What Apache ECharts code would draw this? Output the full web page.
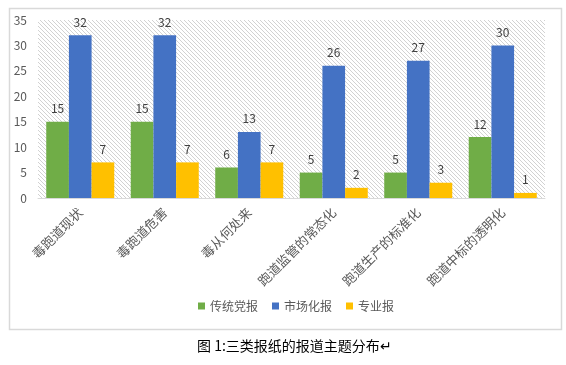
<!DOCTYPE html>
<html><head><meta charset="utf-8">
<script src="https://cdn.jsdelivr.net/npm/echarts@6/dist/echarts.min.js"></script>
<style>html,body{margin:0;padding:0;background:#fff;}#c{width:566px;height:365px;}</style>
</head><body><div id="c"></div>
<script>
const categories = ['毒跑道现状','毒跑道危害','毒从何处来','跑道监管的常态化','跑道生产的标准化','跑道中标的透明化'];
const seriesNames = ['传统党报','市场化报','专业报'];
const traditional = [15,15,6,5,5,12];
const market = [32,32,13,26,27,30];
const professional = [7,7,7,2,3,1];
const yTicks = [0,5,10,15,20,25,30,35];
const caption = '图 1:三类报纸的报道主题分布↵';

const tile = document.createElement('canvas');
tile.width = 4; tile.height = 4;
const tc = tile.getContext('2d');
tc.fillStyle = '#ffffff'; tc.fillRect(0,0,4,4);
tc.fillStyle = '#d2d2d2';
for (let i = 0; i < 4; i++) tc.fillRect(i, i, 1, 1);

const chart = echarts.init(document.getElementById('c'), null, {renderer:'canvas'});
const font = 'Noto Sans CJK SC';
const colors = ['#70ad47','#4472c4','#ffc000'];
const data = [traditional, market, professional];
chart.setOption({
  backgroundColor: '#ffffff',
  animation: false,
  textStyle: {fontFamily: font},
  graphic: [
    {type:'rect', left:7, top:6, shape:{width:552, height:321}, style:{fill:'none', stroke:'#d9d9d9', lineWidth:1.5}, silent:true, z:-1},
    {type:'text', left:197, top:339, style:{text:caption, font:'14px "Noto Sans CJK SC"', fill:'#000'}}
  ],
  legend: {
    bottom: 48, left: 193, itemWidth: 7, itemHeight: 7, itemGap: 14,
    icon: 'rect',
    textStyle: {color:'#595959', fontSize:12, fontFamily: font},
    data: seriesNames
  },
  grid: {left:38, right:21, top:20, bottom:167, show:true, borderWidth:0,
    backgroundColor: {image: tile, repeat: 'repeat'}},
  xAxis: {
    type:'category', data:categories,
    axisLine:{lineStyle:{color:'#d9d9d9'}},
    axisTick:{show:false},
    axisLabel:{rotate:45, color:'#595959', fontSize:13, fontFamily:font, interval:0, margin:12}
  },
  yAxis: {
    type:'value', min:0, max:35, interval:5,
    axisLine:{show:false}, axisTick:{show:false},
    splitLine:{show:false},
    axisLabel:{color:'#595959', fontSize:12, margin:11,
      formatter: v => yTicks.includes(v) ? String(v) : ''}
  },
  series: seriesNames.map((n,i)=>({
    name:n, type:'bar', data:data[i], barGap:'0%', barCategoryGap:'19.5%',
    itemStyle:{color:colors[i]},
    label:{show:true, position:'top', distance:7, color:'#404040', fontSize:12}
  }))
});
</script></body></html>
